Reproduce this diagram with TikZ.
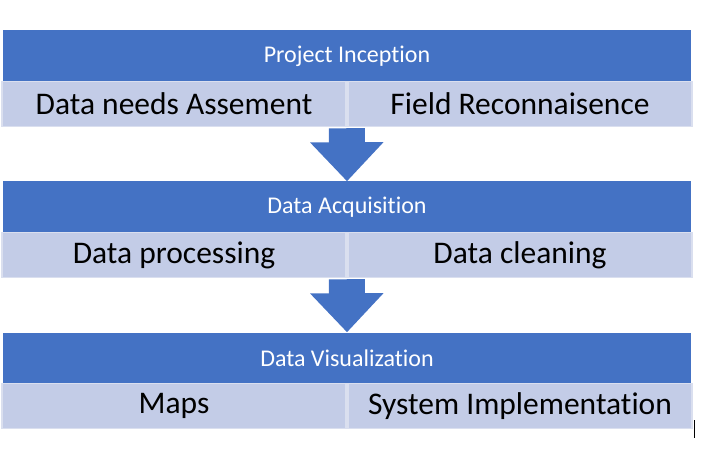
\documentclass[tikz,border=0pt]{standalone}
\usepackage{fontspec}
\setmainfont[Ligatures=NoCommon]{Carlito}
\usepackage{tikz}
\usetikzlibrary{arrows.meta}
\usepackage{xcolor}
\definecolor{hdrblue}{HTML}{4472C4}
\definecolor{rowblue}{HTML}{C3CCE7}
\definecolor{rowline}{HTML}{DADFEF}

\begin{document}
\begin{tikzpicture}[x=1pt,y=-1pt,
        header/.style={fill=hdrblue,text=white,minimum width=688pt,minimum height=51pt,inner sep=0pt,font=\fontsize{24}{28}\selectfont},
        cell/.style={fill=rowblue,draw=rowline,line width=1.5pt,minimum width=344pt,minimum height=45pt,inner sep=0pt,font=\fontsize{31.5}{36}\selectfont},
        flow/.style={draw=hdrblue,line width=36pt,-{Triangle[width=71pt,length=39pt]}}]
        \useasboundingbox (0,0) rectangle (727,454);

        \node[header] (inception) at (347, 56) {Project Inception};
        \node[cell] (needs) at (174, 104) {Data needs Assement};
        \node[cell] (recon) at (520, 104) {Field Reconnaisence};

        \node[header] (acquisition) at (347, 207) {Data Acquisition};
        \node[cell] (processing) at (174, 255) {Data processing};
        \node[cell] (cleaning) at (520, 255) {Data cleaning};

        \node[header] (visual) at (347, 358) {Data Visualization};
        \node[cell] (maps) at (174, 406) {Maps};
        \node[cell] (system) at (520, 406) {System Implementation};

        \draw[flow] ([yshift=-1pt]needs.south east) -- (acquisition.north);
        \draw[flow] ([yshift=-1pt]processing.south east) -- (visual.north);

        % cursor mark
        \coordinate (mark) at (694, 420);
        \draw[line width=1pt] (mark) -- ++(0, 18);
    \end{tikzpicture}
\end{document}
